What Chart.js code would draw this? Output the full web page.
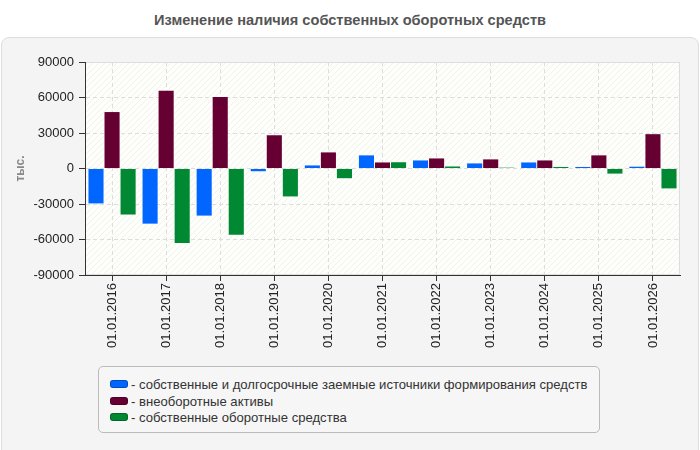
<!DOCTYPE html>
<html>
<head>
<meta charset="utf-8">
<script src="https://cdn.jsdelivr.net/npm/chart.js@4/dist/chart.umd.min.js"></script>
<style>
  body { margin: 0; background: #fff; font-family: "Liberation Sans", Arial, sans-serif; }
  #wrap { position: relative; width: 700px; height: 450px; overflow: hidden; }
  #title { position: absolute; top: 12px; left: 0; width: 700px; text-align: center;
           font-weight: bold; font-size: 14.6px; line-height: 17px; color: #555; }
  #panel { position: absolute; top: 37px; left: 1px; width: 696px; height: 420px;
           background: #f4f4f4; border: 1px solid #ddd; border-radius: 8px; }
  #chart { position: absolute; top: 0; left: 0; }
  #legend { position: absolute; left: 98px; top: 366px; width: 500px; height: 65px;
            border: 1px solid #bbb; border-radius: 5px; background: #f6f6f6; }
  .item { position: absolute; left: 11px; font-size: 13.1px; line-height: 15px; color: #333; white-space: nowrap; }
  .sw { display: inline-block; width: 16px; height: 6px; border-radius: 3px; margin-right: 3px;
        vertical-align: 1px; }
</style>
</head>
<body>
<div id="wrap">
  <div id="title">Изменение наличия собственных оборотных средств</div>
  <div id="panel"></div>
  <canvas id="chart" width="700" height="360"></canvas>
  <div id="legend"></div>
</div>
<script>
var labels = ["01.01.2016", "01.01.2017", "01.01.2018", "01.01.2019", "01.01.2020", "01.01.2021",
              "01.01.2022", "01.01.2023", "01.01.2024", "01.01.2025", "01.01.2026"];
var sources = [-29500, -46600, -39800, -2300, 2600, 11100, 6800, 4300, 5100, 1300, 1500];
var fixedAssets = [47700, 65600, 60500, 28100, 13600, 5100, 8500, 7700, 6800, 11100, 29000];
var workingCapital = [-38900, -63000, -56000, -23600, -8200, 5300, 1700, 700, 1300, -4300, -16800];
var seriesNames = ["собственные и долгосрочные заемные источники формирования средств",
                   "внеоборотные активы", "собственные оборотные средства"];
var seriesColors = ["#0066ff", "#660033", "#008833"];
var yTicks = [-90000, -60000, -30000, 0, 30000, 60000, 90000];

// hatched plot background
var pat = document.createElement("canvas");
pat.width = 6; pat.height = 6;
var pc = pat.getContext("2d");
pc.fillStyle = "#fefefb";
pc.fillRect(0, 0, 6, 6);
pc.strokeStyle = "#f1f1ed";
pc.lineWidth = 1;
pc.beginPath();
pc.moveTo(0, 6); pc.lineTo(6, 0);
pc.moveTo(-1, 1); pc.lineTo(1, -1);
pc.moveTo(5, 7); pc.lineTo(7, 5);
pc.stroke();

var bgPlugin = {
    id: "plotBg",
    beforeDraw: function (chart) {
        var a = chart.chartArea, ctx = chart.ctx;
        ctx.save();
        ctx.fillStyle = ctx.createPattern(pat, "repeat");
        ctx.fillRect(a.left, a.top, a.right - a.left, a.bottom - a.top);
        ctx.strokeStyle = "#dddddd";
        ctx.lineWidth = 1;
        ctx.strokeRect(a.left + 0.5, a.top + 0.5, a.right - a.left - 1, a.bottom - a.top - 1);
        ctx.restore();
    }
};

var values = [sources, fixedAssets, workingCapital];
var datasets = [];
for (var i = 0; i < values.length; i++) {
    datasets.push({
        label: seriesNames[i],
        data: values[i],
        backgroundColor: seriesColors[i],
        categoryPercentage: 0.89,
        barPercentage: 0.94
    });
}

var chart = new Chart(document.getElementById("chart"), {
    type: "bar",
    data: { labels: labels, datasets: datasets },
    options: {
        responsive: false,
        animation: false,
        layout: { padding: { left: 0, right: 20, top: 62, bottom: 0 } },
        plugins: { legend: { display: false }, tooltip: { enabled: false } },
        scales: {
            x: {
                grid: { offset: false, color: "#dddddd", tickColor: "#333", tickLength: 6, tickBorderDash: [] },
                border: { color: "#333", dash: [4, 3] },
                ticks: { minRotation: 90, maxRotation: 90, color: "#222", padding: 2,
                         font: { family: "Liberation Sans", size: 13 } },
                afterFit: function (s) { s.height = 85; }
            },
            y: {
                min: -90000, max: 90000,
                afterBuildTicks: function (s) { s.ticks = yTicks.map(function (v) { return { value: v }; }); },
                grid: { color: "#dddddd", tickColor: "#333", tickLength: 6, tickBorderDash: [] },
                border: { color: "#333", dash: [4, 3] },
                ticks: { color: "#222", padding: 5, font: { family: "Liberation Sans", size: 13 },
                         callback: function (v) { return String(v); } },
                title: { display: true, text: "тыс.", color: "#888", padding: { top: 13, bottom: 0 },
                         font: { family: "Liberation Sans", size: 12, weight: "bold" } },
                afterFit: function (s) { s.width = 85; }
            }
        }
    },
    plugins: [bgPlugin]
});

var leg = document.getElementById("legend");
chart.data.datasets.forEach(function (d, i) {
    var it = document.createElement("div");
    it.className = "item";
    it.style.top = (10 + i * 16.5) + "px";
    var sw = document.createElement("span");
    sw.className = "sw";
    sw.style.background = d.backgroundColor;
    sw.style.border = "1px solid rgba(0,0,0,0.25)";
    it.appendChild(sw);
    it.appendChild(document.createTextNode("- " + d.label));
    leg.appendChild(it);
});
</script>
</body>
</html>
